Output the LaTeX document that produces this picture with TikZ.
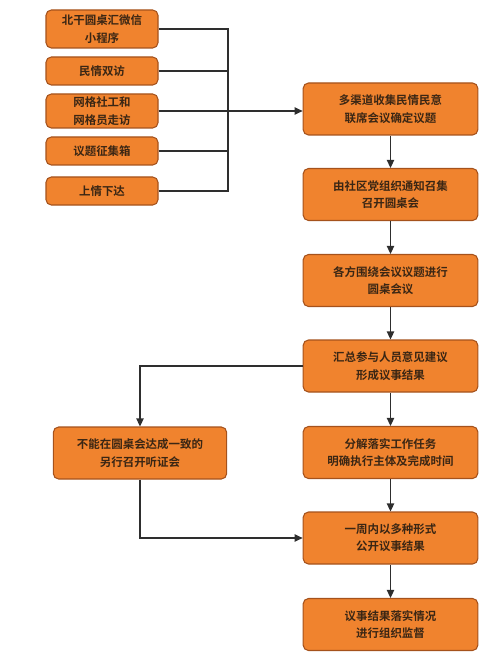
\documentclass[tikz,border=0pt]{standalone}
\usepackage{fontspec}
\newfontfamily\cjk{Noto Sans CJK SC}[BoldFont={Noto Sans CJK SC Bold}]
\usetikzlibrary{positioning, arrows.meta, calc}
\definecolor{boxorange}{HTML}{F0832E}
\definecolor{boxedge}{HTML}{A5521C}
\definecolor{linegray}{HTML}{2E2E2E}
\definecolor{textbrown}{HTML}{3A2614}

\begin{document}
\begin{tikzpicture}[x=0.75pt, y=-0.75pt,
          srcbox/.style={draw=boxedge, fill=boxorange, rounded corners=4pt, line width=0.8pt, minimum width=84pt, align=center, font=\cjk\bfseries\fontsize{8.6}{13}\selectfont, text=textbrown, inner sep=1pt},
          stepbox/.style={srcbox, minimum width=131pt, minimum height=39pt},
          flowarrow/.style={-{Triangle[length=6pt, width=5.5pt]}, line width=0.9pt, linegray},
          busline/.style={line width=0.9pt, linegray}
        ]
          \useasboundingbox (0,0) rectangle (500,659);
          % source channels
          \node[srcbox, minimum height=28.5pt] (S1) at (102, 29) {北干圆桌汇微信\\小程序};
          \node[srcbox, minimum height=21pt] (S2) at (102, 71) {民情双访};
          \node[srcbox, minimum height=25.5pt] (S3) at (102, 111) {网格社工和\\网格员走访};
          \node[srcbox, minimum height=21pt] (S4) at (102, 151) {议题征集箱};
          \node[srcbox, minimum height=21pt] (S5) at (102, 191) {上情下达};
          \coordinate (bus) at (228, 111);

          % main flow
          \node[stepbox] (A) at (390.5, 109) {多渠道收集民情民意\\联席会议确定议题};
          \node[stepbox] (B) at (390.5, 194.5) {由社区党组织通知召集\\召开圆桌会};
          \node[stepbox] (C) at (390.5, 280.5) {各方围绕会议议题进行\\圆桌会议};
          \node[stepbox] (D) at (390.5, 366) {汇总参与人员意见建议\\形成议事结果};
          \node[stepbox] (E) at (390.5, 452.5) {分解落实工作任务\\明确执行主体及完成时间};
          \node[stepbox] (F) at (390.5, 538) {一周内以多种形式\\公开议事结果};
          \node[stepbox] (G) at (390.5, 624.5) {议事结果落实情况\\进行组织监督};
          \node[stepbox, minimum width=130pt] (L) at (140, 453) {不能在圆桌会达成一致的\\另行召开听证会};

          \draw[busline] (S1.east) -| (bus);
          \draw[busline] (S5.east) -| (bus);
          \foreach \s in {S2, S3, S4}
            \draw[busline] (\s.east) -- (\s.east -| bus);
          \draw[flowarrow] (bus) -- (bus -| A.west);

          \draw[flowarrow] (A) -- (B);
          \draw[flowarrow] (B) -- (C);
          \draw[flowarrow] (C) -- (D);
          \draw[flowarrow] (D) -- (E);
          \draw[flowarrow] (E) -- (F);
          \draw[flowarrow] (F) -- (G);
          \draw[flowarrow] (D.west) -| (L.north);
          \draw[flowarrow] (L.south) |- (F.west);
        \end{tikzpicture}
\end{document}
